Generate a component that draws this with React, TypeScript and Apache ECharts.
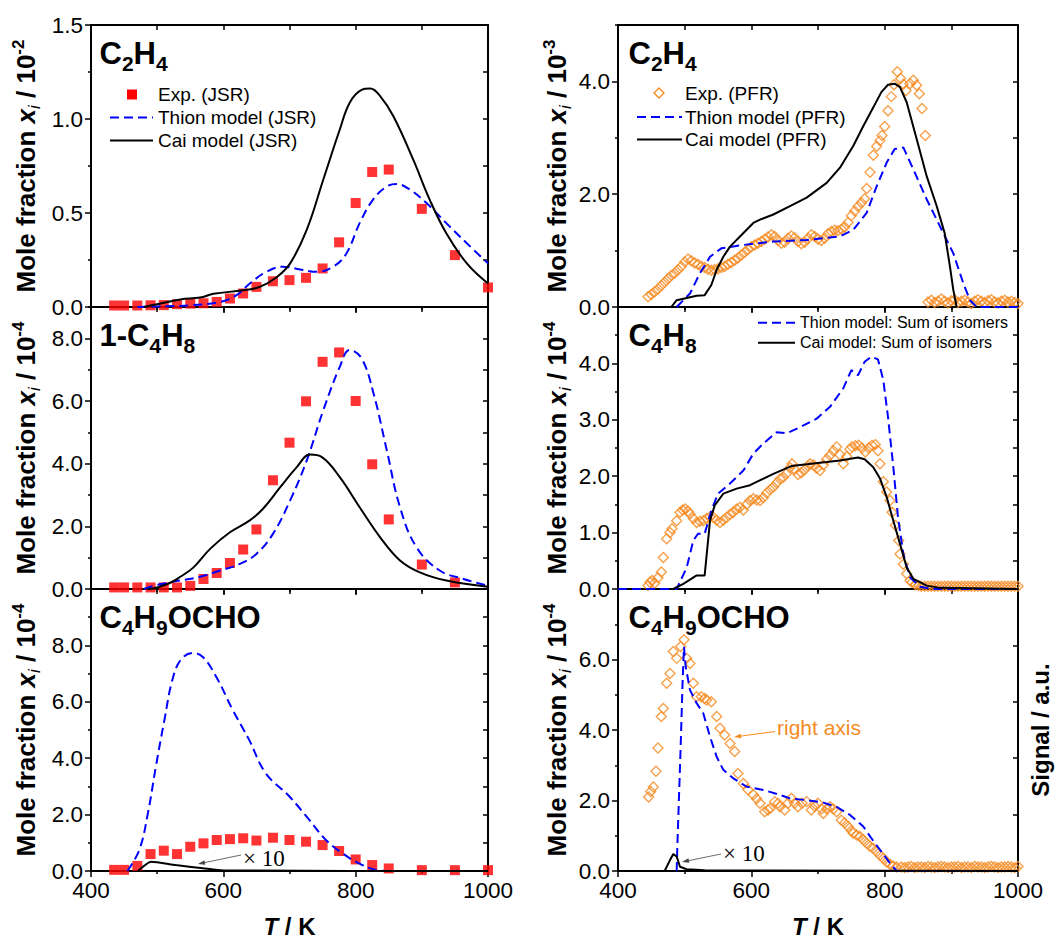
import React, { useEffect, useRef } from 'react';
import * as echarts from 'echarts';

const FONT = 'Liberation Sans';
const SERIF = 'Liberation Serif';
const RED = '#FF0000';
const BLUE = '#0000FF';
const ORANGE = '#F58A1F';
const BLACK = '#000000';

// ---------------- JSR data (left column) ----------------
const jsrT = [435, 450, 470, 490, 510, 530, 550, 570, 590, 610, 630, 650, 675, 700, 725, 750, 775, 800, 825, 850, 900, 950, 1000];
const jsrC2H4Exp = [0.008, 0.008, 0.008, 0.009, 0.01, 0.015, 0.018, 0.02, 0.027, 0.045, 0.072, 0.107, 0.137, 0.143, 0.155, 0.205, 0.344, 0.553, 0.718, 0.731, 0.522, 0.276, 0.104];
const jsrC4H8Exp = [0.05, 0.05, 0.05, 0.05, 0.05, 0.05, 0.1, 0.32, 0.51, 0.83, 1.26, 1.9, 3.47, 4.67, 5.99, 7.25, 7.55, 6.0, 3.98, 2.22, 0.78, 0.21, null];
const jsrOchoExp = [0.04, 0.04, 0.18, 0.6, 0.72, 0.6, 0.86, 0.98, 1.1, 1.13, 1.16, 1.08, 1.18, 1.1, 1.04, 0.92, 0.71, 0.41, 0.21, 0.09, 0.03, 0.03, 0.03];

const thionJsrC2H4T = [470, 500, 550, 595, 620, 640, 665, 690, 716, 741, 766, 786, 806, 826, 847, 862, 882, 907, 937, 968, 1000];
const thionJsrC2H4 = [0, 0.003, 0.009, 0.027, 0.063, 0.125, 0.187, 0.214, 0.2, 0.187, 0.214, 0.285, 0.446, 0.57, 0.641, 0.654, 0.624, 0.553, 0.446, 0.339, 0.232];
const caiJsrC2H4T = [480, 500, 535, 565, 585, 630, 655, 681, 701, 726, 751, 776, 791, 809, 822, 837, 857, 887, 912, 937, 968, 1000];
const caiJsrC2H4 = [0, 0.015, 0.04, 0.05, 0.07, 0.089, 0.107, 0.16, 0.232, 0.41, 0.677, 0.944, 1.087, 1.155, 1.162, 1.122, 1.015, 0.784, 0.57, 0.392, 0.232, 0.125];

const thionJsrC4H8T = [480, 504, 534, 565, 595, 625, 650, 675, 701, 726, 751, 776, 791, 809, 827, 847, 867, 892, 927, 963, 1000];
const thionJsrC4H8 = [0, 0.15, 0.27, 0.39, 0.59, 0.8, 1.12, 1.76, 2.83, 4.1, 5.7, 7.09, 7.63, 7.36, 6.24, 4.43, 2.61, 1.33, 0.59, 0.32, 0.1];
const caiJsrC4H8T = [485, 500, 520, 535, 555, 580, 610, 640, 660, 686, 711, 731, 749, 776, 806, 837, 867, 897, 937, 1000];
const caiJsrC4H8 = [0, 0.05, 0.2, 0.39, 0.69, 1.28, 1.81, 2.19, 2.56, 3.25, 3.89, 4.29, 4.21, 3.57, 2.61, 1.65, 0.91, 0.53, 0.27, 0.07];

const thionJsrOchoT = [455, 473, 486, 498, 511, 523, 536, 554, 569, 589, 614, 639, 664, 700, 730, 755, 780, 805, 831, 855, 1000];
const thionJsrOcho = [0, 0.75, 2.05, 3.7, 5.36, 6.78, 7.5, 7.73, 7.59, 6.9, 5.72, 4.65, 3.47, 2.64, 1.81, 1.1, 0.63, 0.27, 0.04, 0, 0];
const caiJsrOchoT = [471, 491, 528, 569, 600, 1000];
const caiJsrOchoX10 = [0, 0.33, 0.21, 0.1, 0.02, 0];

// ---------------- PFR data (right column) ----------------
const pfrC2H4T = [445, 450, 455, 460, 465, 470, 475, 480, 485, 490, 495, 500, 505, 510, 515, 520, 525, 530, 535, 540, 545, 550, 555, 560, 565, 570, 575, 580, 585, 590, 595, 600, 605, 610, 615, 620, 625, 630, 635, 640, 645, 650, 655, 660, 665, 670, 675, 680, 685, 690, 695, 700, 705, 710, 715, 720, 725, 730, 735, 740, 745, 750, 755, 760, 765, 770,
  773, 778, 783, 788, 793, 796, 800, 805, 810, 814, 819, 824, 828, 832, 838, 843, 848, 852, 856, 861,
  865, 870, 875, 880, 885, 890, 895, 900, 905, 910, 915, 920, 925, 930, 935, 940, 945, 950, 955, 960, 965, 970, 975, 980, 985, 990, 995, 1000];
const pfrC2H4Exp = [0.18, 0.22, 0.27, 0.32, 0.38, 0.44, 0.5, 0.56, 0.6, 0.66, 0.72, 0.8, 0.85, 0.82, 0.78, 0.76, 0.72, 0.7, 0.67, 0.65, 0.66, 0.68, 0.7, 0.72, 0.76, 0.79, 0.83, 0.87, 0.92, 0.97, 1.02, 1.07, 1.1, 1.13, 1.16, 1.2, 1.24, 1.28, 1.25, 1.18, 1.13, 1.15, 1.22, 1.26, 1.23, 1.16, 1.12, 1.15, 1.22, 1.28, 1.25, 1.2, 1.18, 1.22, 1.3, 1.34, 1.36, 1.35, 1.38, 1.42, 1.5, 1.62, 1.7, 1.78, 1.85, 1.92,
  2.1, 2.39, 2.69, 2.85, 2.95, 3.04, 3.2, 3.48, 3.73, 3.94, 4.17, 4.05, 3.95, 3.84, 3.96, 4.02, 3.93, 3.78, 3.52, 3.04,
  0.09, 0.12, 0.08, 0.1, 0.14, 0.1, 0.07, 0.11, 0.13, 0.08, 0.1, 0.12, 0.09, 0.06, 0.1, 0.13, 0.1, 0.08, 0.11, 0.13, 0.09, 0.07, 0.1, 0.12, 0.09, 0.1, 0.08, 0.06];
const thionPfrC2H4T = [488, 508, 523, 538, 555, 588, 633, 683, 733, 753, 773, 788, 803, 815, 828, 843, 863, 883, 903, 918, 928, 938, 1000];
const thionPfrC2H4 = [0, 0.24, 0.6, 0.89, 1.04, 1.1, 1.16, 1.19, 1.25, 1.37, 1.67, 2.14, 2.56, 2.8, 2.83, 2.44, 1.91, 1.43, 0.95, 0.42, 0.12, 0, 0];
const caiPfrC2H4T = [480, 488, 503, 518, 530, 540, 548, 558, 568, 583, 603, 613, 633, 658, 683, 713, 733, 753, 768, 783, 795, 805, 815, 823, 833, 848, 863, 878, 890, 898, 903, 908];
const caiPfrC2H4 = [0, 0.12, 0.16, 0.2, 0.21, 0.39, 0.66, 0.89, 1.07, 1.25, 1.49, 1.55, 1.64, 1.79, 1.94, 2.2, 2.47, 2.86, 3.21, 3.54, 3.81, 3.94, 3.96, 3.9, 3.63, 2.98, 2.32, 1.79, 1.31, 0.71, 0.3, 0];

const pfrC4H8T = [445, 448, 451, 455, 460, 465, 468, 473, 478, 481, 488, 493, 497, 501, 505, 508, 513, 518, 523, 528, 533, 538, 543, 548, 553, 558, 563, 568, 573, 578, 583, 588, 593, 598, 603, 608, 613, 618, 623, 628, 633, 638, 643, 648, 653, 658, 661, 665, 670, 675, 680, 685, 688, 693, 698, 703, 708, 713, 718, 723, 728, 733, 738, 743, 748, 751, 756, 761, 766, 771, 776, 781, 786, 790, 793, 798, 803, 808, 811, 816, 821, 823, 828, 833, 838, 841, 846, 851,
  855, 860, 865, 870, 875, 880, 885, 890, 895, 900, 905, 910, 915, 920, 925, 930, 935, 940, 945, 950, 955, 960, 965, 970, 975, 980, 985, 990, 995, 1000];
const pfrC4H8Exp = [0.06, 0.12, 0.15, 0.1, 0.2, 0.3, 0.56, 0.89, 1.0, 1.07, 1.21, 1.36, 1.4, 1.42, 1.38, 1.33, 1.25, 1.18, 1.2, 1.21, 1.25, 1.28, 1.27, 1.22, 1.18, 1.22, 1.27, 1.32, 1.36, 1.42, 1.45, 1.4, 1.5, 1.57, 1.6, 1.58, 1.57, 1.62, 1.7, 1.76, 1.81, 1.88, 1.95, 1.98, 2.05, 2.15, 2.22, 2.12, 2.03, 2.06, 2.12, 2.18, 2.22, 2.2, 2.14, 2.1, 2.2, 2.3, 2.37, 2.45, 2.52, 2.38, 2.22, 2.35, 2.48, 2.52, 2.54, 2.55, 2.5, 2.43, 2.5, 2.55, 2.56, 2.45, 2.22, 1.9, 1.72, 1.57, 1.36, 1.13, 0.86, 0.62, 0.44, 0.27, 0.15, 0.12, 0.08, 0.06,
  0.05, 0.05, 0.05, 0.05, 0.05, 0.05, 0.05, 0.05, 0.05, 0.05, 0.05, 0.05, 0.05, 0.05, 0.05, 0.05, 0.05, 0.05, 0.05, 0.05, 0.05, 0.05, 0.05, 0.05, 0.05, 0.05, 0.05, 0.05, 0.05, 0.05];
const thionPfrC4H8T = [400, 488, 503, 513, 520, 530, 540, 550, 568, 588, 603, 618, 638, 653, 673, 698, 718, 738, 750, 760, 770, 780, 790, 798, 805, 813, 820, 828, 838, 853, 873, 1000];
const thionPfrC4H8 = [0, 0, 0.38, 0.86, 0.98, 0.98, 1.39, 1.69, 1.87, 2.1, 2.4, 2.58, 2.78, 2.76, 2.87, 3.02, 3.23, 3.56, 3.88, 3.79, 4.03, 4.12, 4.07, 3.7, 3.05, 2.16, 1.27, 0.62, 0.21, 0.04, 0, 0];
const caiPfrC4H8T = [483, 498, 518, 530, 538, 545, 558, 578, 598, 608, 633, 660, 683, 713, 733, 760, 770, 783, 793, 803, 813, 823, 833, 843, 863, 883, 1000];
const caiPfrC4H8 = [0, 0.09, 0.24, 0.24, 1.21, 1.48, 1.69, 1.78, 1.84, 1.9, 2.04, 2.18, 2.21, 2.25, 2.28, 2.33, 2.3, 2.16, 1.96, 1.63, 1.21, 0.8, 0.38, 0.18, 0.06, 0.02, 0];

const pfrOchoT = [446, 449, 453, 457, 460, 465, 468, 473, 478, 483, 488, 494, 499, 503, 508, 513, 518, 525, 530, 533, 540, 548, 553, 560, 568, 575, 580, 588, 595, 603, 608, 613, 620, 625, 628, 635, 640, 643, 650, 655, 660, 665, 670, 676, 683, 690, 695, 700, 705, 708, 713, 718, 723, 728, 735, 740, 745, 750, 753, 758, 763, 768, 773, 778, 783, 788, 793, 798, 803, 808, 813, 818,
  825, 830, 835, 840, 845, 850, 855, 860, 865, 870, 875, 880, 885, 890, 895, 900, 905, 910, 915, 920, 925, 930, 935, 940, 945, 950, 955, 960, 965, 970, 975, 980, 985, 990, 995, 1000];
const pfrOchoSignal = [1.31, 1.41, 1.49, 1.77, 2.18, 2.74, 2.88, 3.33, 3.5, 3.89, 3.77, 3.98, 4.1, 3.77, 3.68, 3.33, 3.09, 3.09, 3.06, 3.03, 3.0, 2.74, 2.53, 2.41, 2.26, 2.12, 1.73, 1.55, 1.44, 1.35, 1.28, 1.2, 1.05, 1.08, 1.11, 1.23, 1.2, 1.14, 1.08, 1.2, 1.29, 1.2, 1.14, 1.2, 1.23, 1.08, 1.15, 1.2, 1.1, 1.02, 1.1, 1.14, 1.1, 1.05, 0.9, 0.85, 0.79, 0.72, 0.67, 0.64, 0.61, 0.55, 0.49, 0.44, 0.4, 0.34, 0.28, 0.22, 0.16, 0.12, 0.09, 0.07,
  0.07, 0.06, 0.07, 0.08, 0.06, 0.07, 0.07, 0.06, 0.08, 0.07, 0.06, 0.07, 0.08, 0.07, 0.06, 0.07, 0.07, 0.08, 0.06, 0.07, 0.07, 0.06, 0.08, 0.07, 0.07, 0.06, 0.07, 0.08, 0.07, 0.06, 0.07, 0.07, 0.08, 0.07, 0.06, 0.08];
const thionPfrOchoT = [488, 489, 494, 497, 499, 501.5, 508, 518, 528, 538, 548, 558, 573, 593, 618, 643, 658, 683, 708, 728, 748, 768, 780, 793, 808, 818, 1000];
const thionPfrOcho = [0, 0.69, 3.53, 5.42, 6.36, 5.8, 5.13, 4.76, 4.47, 3.81, 3.24, 2.87, 2.63, 2.39, 2.3, 2.16, 2.06, 2.01, 1.94, 1.82, 1.59, 1.26, 0.93, 0.6, 0.22, 0, 0];
const caiPfrOchoT = [470, 478, 483, 488, 493, 503, 530, 1000];
const caiPfrOchoX10 = [0, 0.31, 0.48, 0.41, 0.12, 0.05, 0.02, 0];

// ---------------- axes ----------------
const xTicks = [400, 600, 800, 1000];
const yMaxes = [1.5, 9, 10, 5, 5, 8];
const yMajorTicks = [[0, 0.5, 1.0, 1.5], [0, 2, 4, 6, 8], [0, 2, 4, 6, 8], [0, 2, 4], [0, 1, 2, 3, 4], [0, 2, 4, 6]];
const yMinorTicks = [[0.25, 0.75, 1.25], [1, 3, 5, 7, 9], [1, 3, 5, 7, 9], [1, 3, 5], [0.5, 1.5, 2.5, 3.5, 4.5], [1, 3, 5, 7]];
const rightSteps = [0.25, 1, 1, 1, 0.5, 1];
const signalMax = 5;
const yExponents = ['-2', '-4', '-4', '-3', '-4', '-4'];
const titleParts = [['C', '2', 'H', '4'], ['1-C', '4', 'H', '8'], ['C', '4', 'H', '9', 'OCHO'], ['C', '2', 'H', '4'], ['C', '4', 'H', '8'], ['C', '4', 'H', '9', 'OCHO']];

// ---------------- layout ----------------
const COL_LEFT = [91, 618];
const COL_WIDTH = [397, 400];
const ROW_TOP = [25, 307, 589];
const ROW_H = 282;

type Seg = { t: string; size: number; bold?: boolean; italic?: boolean; dy?: number; family?: string };

let measureCtx: CanvasRenderingContext2D | null = null;
function measure(s: string, seg: Seg): number {
  if (!measureCtx) measureCtx = document.createElement('canvas').getContext('2d');
  const c = measureCtx!;
  c.font = `${seg.italic ? 'italic ' : ''}${seg.bold ? 'bold ' : ''}${seg.size}px '${seg.family || FONT}'`;
  return c.measureText(s).width;
}

function richRow(segs: Seg[], color: string, anchor: 'left' | 'center' = 'left'): any[] {
  const widths = segs.map((s) => measure(s.t, s));
  const total = widths.reduce((a, b) => a + b, 0);
  let x = anchor === 'center' ? -total / 2 : 0;
  const out: any[] = [];
  segs.forEach((s, i) => {
    const lead = (s.t.match(/^ */) || [''])[0];
    const leadW = lead ? measure(lead, s) : 0;
    out.push({
      type: 'text',
      x: x + leadW,
      y: (s.dy || 0) - 0.3465 * s.size,
      style: {
        text: s.t.trimStart(),
        fill: color,
        fontSize: s.size,
        fontWeight: s.bold ? 'bold' : 'normal',
        fontStyle: s.italic ? 'italic' : 'normal',
        fontFamily: s.family || FONT,
        align: 'left',
        verticalAlign: 'middle',
        textAlign: 'left',
        textVerticalAlign: 'middle',
      },
    });
    x += widths[i];
  });
  return out;
}

function plainText(text: string, x: number, y: number, size: number, color = BLACK, family = FONT): any {
  return {
    type: 'text', x, y, z: 20,
    style: { text, fill: color, fontSize: size, fontFamily: family, align: 'left', verticalAlign: 'middle', textAlign: 'left', textVerticalAlign: 'middle' },
  };
}

function arrow(x1: number, y1: number, x2: number, y2: number, color: string, width: number): any[] {
  const dx = x2 - x1, dy = y2 - y1;
  const L = Math.hypot(dx, dy);
  const ux = dx / L, uy = dy / L;
  const len = 7, hw = 2.3;
  const bx = x2 - ux * len, by = y2 - uy * len;
  return [
    { type: 'line', z: 20, shape: { x1, y1, x2: bx, y2: by }, style: { stroke: color, lineWidth: width } },
    { type: 'polygon', z: 20, shape: { points: [[x2, y2], [bx - uy * hw, by + ux * hw], [bx + uy * hw, by - ux * hw]] }, style: { fill: color } },
  ];
}

function hline(x1: number, x2: number, y: number, color: string, dashed: boolean): any {
  return { type: 'line', z: 20, shape: { x1, y1: y, x2, y2: y }, style: { stroke: color, lineWidth: 2, lineDash: dashed ? [9, 5] : null } };
}

const pairs = (xs: number[], ys: (number | null)[]) =>
  xs.map((x, i) => [x, ys[i]]).filter((p) => p[1] !== null && p[1] !== undefined);

function buildOption(): any {
  const grid: any[] = [];
  const xAxis: any[] = [];
  const yAxis: any[] = [];
  const axisLine = { show: true, onZero: false, lineStyle: { color: BLACK, width: 2 } };
  const tickLine = { color: BLACK, width: 1.5 };
  for (let p = 0; p < 6; p++) {
    const col = p < 3 ? 0 : 1;
    const row = p % 3;
    grid.push({ left: COL_LEFT[col], top: ROW_TOP[row], width: COL_WIDTH[col], height: ROW_H, containLabel: false, outerBoundsMode: 'none' });
    xAxis.push({
      type: 'value', gridIndex: p, position: 'bottom', min: 400, max: 1000, interval: 200,
      axisLine, axisTick: { show: true, inside: false, length: 6, lineStyle: tickLine },
      minorTick: { show: true, splitNumber: 2, length: 3, lineStyle: tickLine },
      axisLabel: { show: row === 2, margin: 8, fontSize: 22.5, color: BLACK, fontFamily: FONT, customValues: xTicks, formatter: (v: number) => String(v) },
      splitLine: { show: false }, minorSplitLine: { show: false },
    });
    xAxis.push({
      type: 'value', gridIndex: p, position: 'top', min: 400, max: 1000, interval: 100,
      axisLine, axisTick: { show: true, inside: true, length: 5, lineStyle: tickLine },
      axisLabel: { show: false }, splitLine: { show: false },
    });
    const ymax = yMaxes[p];
    yAxis.push({
      type: 'value', gridIndex: p, position: 'left', min: 0, max: ymax, interval: yMajorTicks[p][1],
      axisLine, axisTick: { show: true, inside: false, length: 6, lineStyle: tickLine, customValues: yMajorTicks[p] },
      axisLabel: { show: true, margin: 8, fontSize: 22.5, color: BLACK, fontFamily: FONT, customValues: yMajorTicks[p], formatter: (v: number) => v.toFixed(1) },
      splitLine: { show: false },
    });
    yAxis.push({
      type: 'value', gridIndex: p, position: 'left', min: 0, max: ymax, interval: yMajorTicks[p][1],
      axisLine: { show: false }, axisTick: { show: true, inside: false, length: 3, lineStyle: tickLine, customValues: yMinorTicks[p] },
      axisLabel: { show: false }, splitLine: { show: false },
    });
    const rmax = p === 5 ? signalMax : ymax;
    yAxis.push({
      type: 'value', gridIndex: p, position: 'right', min: 0, max: rmax, interval: rightSteps[p],
      axisLine, axisTick: { show: true, inside: true, length: 5, lineStyle: tickLine },
      axisLabel: { show: false }, splitLine: { show: false },
    });
  }

  const lineSeries = (name: string, p: number, xs: number[], ys: number[], color: string, dashed: boolean, smooth: number | boolean) => ({
    type: 'line', name, xAxisIndex: 2 * p, yAxisIndex: 3 * p, data: pairs(xs, ys),
    showSymbol: false, symbol: 'none', smooth, clip: true, z: 4,
    lineStyle: { color, width: 2, type: dashed ? [9, 5] : 'solid' }, itemStyle: { color },
  });
  const squares = (name: string, p: number, xs: number[], ys: (number | null)[]) => ({
    type: 'scatter', name, xAxisIndex: 2 * p, yAxisIndex: 3 * p, data: pairs(xs, ys),
    symbol: 'rect', symbolSize: 10, itemStyle: { color: RED }, clip: true, z: 3,
  });
  const diamonds = (name: string, p: number, yIdx: number, xs: number[], ys: number[]) => ({
    type: 'scatter', name, xAxisIndex: 2 * p, yAxisIndex: yIdx, data: pairs(xs, ys),
    symbol: 'diamond', symbolSize: 10, clip: true, z: 3,
    itemStyle: { color: 'rgba(0,0,0,0)', borderColor: ORANGE, borderWidth: 1.4 },
  });

  const series: any[] = [
    squares('Exp. (JSR)', 0, jsrT, jsrC2H4Exp),
    lineSeries('Thion model (JSR)', 0, thionJsrC2H4T, thionJsrC2H4, BLUE, true, 0.4),
    lineSeries('Cai model (JSR)', 0, caiJsrC2H4T, caiJsrC2H4, BLACK, false, 0.4),
    squares('Exp. (JSR) 1-C4H8', 1, jsrT, jsrC4H8Exp),
    lineSeries('Thion model (JSR) 1-C4H8', 1, thionJsrC4H8T, thionJsrC4H8, BLUE, true, 0.4),
    lineSeries('Cai model (JSR) 1-C4H8', 1, caiJsrC4H8T, caiJsrC4H8, BLACK, false, 0.4),
    squares('Exp. (JSR) C4H9OCHO', 2, jsrT, jsrOchoExp),
    lineSeries('Thion model (JSR) C4H9OCHO', 2, thionJsrOchoT, thionJsrOcho, BLUE, true, 0.4),
    lineSeries('Cai model (JSR) C4H9OCHO x10', 2, caiJsrOchoT, caiJsrOchoX10, BLACK, false, 0.2),
    diamonds('Exp. (PFR)', 3, 9, pfrC2H4T, pfrC2H4Exp),
    lineSeries('Thion model (PFR)', 3, thionPfrC2H4T, thionPfrC2H4, BLUE, true, false),
    lineSeries('Cai model (PFR)', 3, caiPfrC2H4T, caiPfrC2H4, BLACK, false, false),
    diamonds('Exp. (PFR) C4H8', 4, 12, pfrC4H8T, pfrC4H8Exp),
    lineSeries('Thion model: Sum of isomers', 4, thionPfrC4H8T, thionPfrC4H8, BLUE, true, false),
    lineSeries('Cai model: Sum of isomers', 4, caiPfrC4H8T, caiPfrC4H8, BLACK, false, false),
    diamonds('Exp. (PFR) C4H9OCHO signal', 5, 17, pfrOchoT, pfrOchoSignal),
    lineSeries('Thion model (PFR) C4H9OCHO', 5, thionPfrOchoT, thionPfrOcho, BLUE, true, false),
    lineSeries('Cai model (PFR) C4H9OCHO x10', 5, caiPfrOchoT, caiPfrOchoX10, BLACK, false, false),
  ];

  // ---------------- graphic: titles, axis names, legends, annotations ----------------
  const graphic: any[] = [];
  for (let p = 0; p < 6; p++) {
    const col = p < 3 ? 0 : 1;
    const row = p % 3;
    const segs: Seg[] = titleParts[p].map((t, i) =>
      i % 2 === 0 ? { t, size: 31, bold: true } : { t, size: 21, bold: true, dy: 6.5 });
    graphic.push({ type: 'group', z: 20, x: col === 0 ? 99.5 : 628.5, y: ROW_TOP[row] + 39, children: richRow(segs, BLACK) });

    const ySegs: Seg[] = [
      { t: 'Mole fraction ', size: 26, bold: true },
      { t: 'x', size: 26, bold: true, italic: true },
      { t: 'i', size: 17, italic: true, dy: 5 },
      { t: ' / 10', size: 26, bold: true },
      { t: yExponents[p], size: 17, bold: true, dy: -11 },
    ];
    graphic.push({
      type: 'group', z: 20, x: col === 0 ? 35 : 566, y: ROW_TOP[row] + ROW_H / 2, rotation: Math.PI / 2,
      children: richRow(ySegs, BLACK, 'center'),
    });
  }
  for (let col = 0; col < 2; col++) {
    graphic.push({
      type: 'group', z: 20, x: COL_LEFT[col] + COL_WIDTH[col] / 2, y: 935,
      children: richRow([{ t: 'T', size: 24, bold: true, italic: true }, { t: ' / K', size: 24, bold: true }], BLACK, 'center'),
    });
  }
  graphic.push({
    type: 'group', z: 20, x: 1049, y: ROW_TOP[2] + ROW_H / 2, rotation: Math.PI / 2,
    children: richRow([{ t: 'Signal / a.u.', size: 24, bold: true }], BLACK, 'center'),
  });

  // legend top-left
  graphic.push({ type: 'rect', z: 20, shape: { x: 127, y: 89.5, width: 10, height: 10 }, style: { fill: RED } });
  graphic.push(plainText('Exp. (JSR)', 158, 94.5, 19));
  graphic.push(hline(110, 153, 117.5, BLUE, true));
  graphic.push(plainText('Thion model (JSR)', 158, 117.5, 19));
  graphic.push(hline(110, 153, 140.5, BLACK, false));
  graphic.push(plainText('Cai model (JSR)', 158, 140.5, 19));

  // legend top-right
  graphic.push({ type: 'polygon', z: 20, shape: { points: [[659, 88], [664, 93], [659, 98], [654, 93]] }, style: { fill: 'none', stroke: ORANGE, lineWidth: 1.4 } });
  graphic.push(plainText('Exp. (PFR)', 685, 93.5, 19));
  graphic.push(hline(637, 682, 117, BLUE, true));
  graphic.push(plainText('Thion model (PFR)', 685, 117, 19));
  graphic.push(hline(637, 682, 139.5, BLACK, false));
  graphic.push(plainText('Cai model (PFR)', 685, 139.5, 19));

  // legend middle-right
  graphic.push(hline(758, 795, 322.7, BLUE, true));
  graphic.push(plainText('Thion model: Sum of isomers', 800, 322.7, 16));
  graphic.push(hline(758, 795, 342.7, BLACK, false));
  graphic.push(plainText('Cai model: Sum of isomers', 800, 342.7, 16));

  // annotations
  graphic.push(plainText('× 10', 243, 858, 23, BLACK, SERIF));
  graphic.push(...arrow(241, 855, 198, 864, '#444444', 0.8));
  graphic.push(plainText('× 10', 723, 853, 23, BLACK, SERIF));
  graphic.push(...arrow(721, 854, 682, 862, '#444444', 0.8));
  graphic.push(plainText('right axis', 777, 727, 21, ORANGE));
  graphic.push(...arrow(775, 731.5, 734, 737, ORANGE, 1));

  return {
    animation: false,
    backgroundColor: '#ffffff',
    textStyle: { fontFamily: FONT },
    grid, xAxis, yAxis, series, graphic,
  };
}

export default function App() {
  const ref = useRef<HTMLDivElement>(null);
  useEffect(() => {
    const chart = echarts.init(ref.current!, null, { renderer: 'svg' });
    chart.setOption(buildOption());
    return () => chart.dispose();
  }, []);
  return <div ref={ref} style={{ position: 'fixed', left: 0, top: 0, width: 1056, height: 940, background: '#fff' }} />;
}
